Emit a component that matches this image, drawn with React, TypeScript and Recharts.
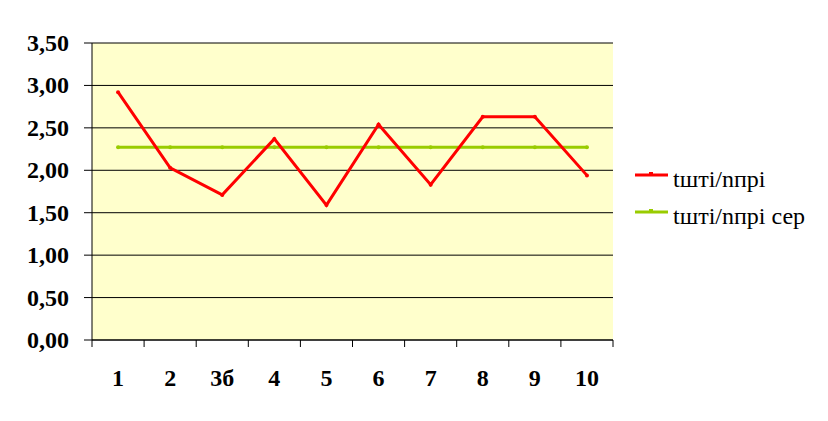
import React from 'react';
import { LineChart, Line, XAxis, YAxis, CartesianGrid } from 'recharts';

const categories = ['1', '2', '3б', '4', '5', '6', '7', '8', '9', '10'];
const ratioValues = [2.92, 2.03, 1.71, 2.37, 1.59, 2.54, 1.83, 2.63, 2.63, 1.94];
const ratioMean = [2.27, 2.27, 2.27, 2.27, 2.27, 2.27, 2.27, 2.27, 2.27, 2.27];
const yTicks = [0, 0.5, 1, 1.5, 2, 2.5, 3, 3.5];
const seriesNames = ['tшті/nпрі', 'tшті/nпрі сер'];
const seriesColors = ['#FF0000', '#99CC00'];

const data = categories.map((c, i) => ({
    name: c,
    ratio: ratioValues[i],
    mean: ratioMean[i],
}));

const FONT = 'Liberation Serif';
const BAND = (613 - 92) / categories.length;

const XTick: React.FC<any> = ({ x, y, payload, index }) => {
    return (
        <g>
            <line x1={x - BAND / 2} y1={y} x2={x - BAND / 2} y2={y + 7} stroke="#000" />
            {index === categories.length - 1 && (
                <line x1={x + BAND / 2} y1={y} x2={x + BAND / 2} y2={y + 7} stroke="#000" />
            )}
            <text
                x={x}
                y={y + 46}
                textAnchor="middle"
                style={{ fontFamily: FONT, fontWeight: 700, fontSize: 24 }}
                fill="#000"
            >
                {payload.value}
            </text>
        </g>
    );
};

const YTick: React.FC<any> = ({ x, y, payload }) => (
    <text x={x} y={y + 8} textAnchor="end" style={{ fontFamily: FONT, fontWeight: 700, fontSize: 24 }} fill="#000">
        {payload.value.toFixed(2).replace('.', ',')}
    </text>
);

// legend drawn beside the chart so it doesn't eat into the plot width
const ChartLegend: React.FC = () => (
    <svg style={{ position: 'absolute', left: 630, top: 150 }} width={198} height={90}>
        {seriesNames.map((name, i) => (
            <g key={i} transform={`translate(0, ${i * 37})`}>
                <line x1={5} y1={25} x2={38} y2={25} stroke={seriesColors[i]} strokeWidth={3} />
                <rect x={19} y={22} width={4} height={4} fill={seriesColors[i]} />
                <text x={43} y={37} style={{ fontFamily: FONT, fontSize: 24 }} fill="#000">
                    {name}
                </text>
            </g>
        ))}
    </svg>
);

const App: React.FC = () => {
    return (
        <div style={{ position: 'absolute', left: 0, top: 0, width: 828, height: 421, background: '#fff', fontFamily: FONT }}>
            <LineChart width={828} height={421} data={data} margin={{ top: 43, right: 215, left: 0, bottom: 51 }}>
                <CartesianGrid vertical={false} stroke="#000" strokeWidth={1} fill="#FFFFCC" fillOpacity={1} />
                <XAxis
                    dataKey="name"
                    height={30}
                    axisLine={{ stroke: '#000' }}
                    tickLine={false}
                    tickSize={0}
                    tickMargin={0}
                    interval={0}
                    padding={{ left: BAND / 2, right: BAND / 2 }}
                    tick={<XTick />}
                />
                <YAxis
                    width={92}
                    domain={[0, 3.5]}
                    ticks={yTicks}
                    interval={0}
                    axisLine={{ stroke: '#000' }}
                    tickLine={{ stroke: '#000' }}
                    tickSize={8}
                    tickMargin={15}
                    tick={<YTick />}
                />
                <Line
                    type="linear"
                    dataKey="mean"
                    name={seriesNames[1]}
                    stroke={seriesColors[1]}
                    strokeWidth={3}
                    dot={{ r: 2, fill: seriesColors[1], stroke: 'none' }}
                    isAnimationActive={false}
                />
                <Line
                    type="linear"
                    dataKey="ratio"
                    name={seriesNames[0]}
                    stroke={seriesColors[0]}
                    strokeWidth={3}
                    dot={{ r: 2, fill: seriesColors[0], stroke: 'none' }}
                    isAnimationActive={false}
                />
            </LineChart>
            <ChartLegend />
        </div>
    );
};

export default App;
